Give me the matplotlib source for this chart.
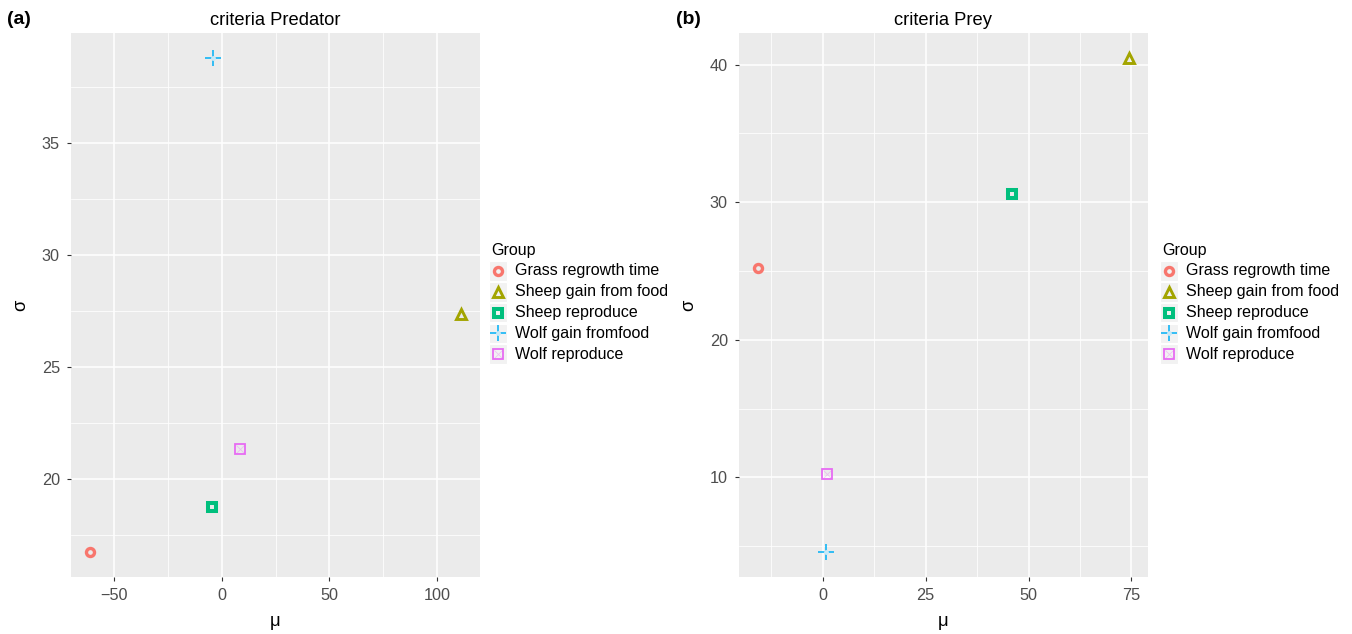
import matplotlib
matplotlib.use('Agg')
import matplotlib.pyplot as plt
from matplotlib.patches import Rectangle

plt.rcParams['font.family'] = ['Liberation Sans', 'DejaVu Sans']

groups = ['Grass regrowth time', 'Sheep gain from food', 'Sheep reproduce',
          'Wolf gain fromfood', 'Wolf reproduce']
colors = ['#F8766D', '#A3A500', '#00BF7D', '#00B0F6', '#E76BF3']

# (mu, sigma) per group
predator_mu = [-61.5, 111.4, -4.7, -4.2, 8.4]
predator_sigma = [16.74, 27.37, 18.75, 38.8, 21.34]
prey_mu = [-15.8, 74.5, 46.1, 0.7, 1.0]
prey_sigma = [25.18, 40.5, 30.6, 4.55, 10.24]

W, H = 1352, 634
BG = '#EBEBEB'


def fig_rect(x0, y0, x1, y1):
    return [x0 / W, 1 - y1 / H, (x1 - x0) / W, (y1 - y0) / H]


def draw_marker(ax, i, x, y):
    c = colors[i]
    if i == 0:
        ax.plot(x, y, 'o', ms=5.8, mfc='none', mec=c, mew=2.4, zorder=5)
    elif i == 1:
        ax.plot(x, y, '^', ms=7.4, mfc='none', mec=c, mew=2.1, zorder=5)
    elif i == 2:
        ax.plot(x, y, 's', ms=5.8, mfc='none', mec=c, mew=2.9, zorder=5)
    elif i == 3:
        ax.plot(x, y, '+', ms=12, mec=c, mew=1.1, zorder=5)
        ax.plot(x, y, 'o', ms=3.5, mfc='#C8E9F7', mec='none', zorder=6)
    else:
        ax.plot(x, y, 's', ms=7.4, mfc='none', mec=c, mew=1.3, zorder=5)
        ax.plot(x, y, 'x', ms=6.0, mec=c, mew=0.6, alpha=0.35, zorder=5)


def panel(rect, mu, sigma, title, xticks, xminor, yticks, yminor):
    ax = fig.add_axes(rect)
    ax.set_facecolor(BG)
    for s in ax.spines.values():
        s.set_visible(False)
    lo, hi = min(mu), max(mu)
    pad = (hi - lo) * 0.05
    ax.set_xlim(lo - pad, hi + pad)
    lo, hi = min(sigma), max(sigma)
    pad = (hi - lo) * 0.05
    ax.set_ylim(lo - pad, hi + pad)
    for v in xminor:
        ax.axvline(v, color='white', lw=0.55, zorder=0)
    for v in yminor:
        ax.axhline(v, color='white', lw=0.55, zorder=0)
    for v in xticks:
        ax.axvline(v, color='white', lw=1.1, zorder=0)
    for v in yticks:
        ax.axhline(v, color='white', lw=1.1, zorder=0)
    ax.set_xticks(xticks)
    ax.set_yticks(yticks)
    ax.set_xticklabels(['\u2212' + str(-v) if v < 0 else str(v) for v in xticks])
    ax.tick_params(length=3, width=0.8, color='#333333', labelcolor='#4D4D4D',
                   labelsize=11.7, pad=5)
    for i in range(len(mu)):
        draw_marker(ax, i, mu[i], sigma[i])
    ax.set_title(title, fontsize=13.2, color='black', pad=6)
    ax.set_xlabel('\u03bc', fontsize=13.2, labelpad=7)
    ax.set_ylabel('\u03c3', fontsize=13.2, labelpad=9)
    return ax


fig = plt.figure(figsize=(W / 100, H / 100), dpi=100)
fig.patch.set_facecolor('white')

panel(fig_rect(71, 33, 480, 577), predator_mu, predator_sigma, 'criteria Predator',
      [-50, 0, 50, 100], [-25, 25, 75], [20, 25, 30, 35], [17.5, 22.5, 27.5, 32.5, 37.5])
panel(fig_rect(739, 33, 1148, 577), prey_mu, prey_sigma, 'criteria Prey',
      [0, 25, 50, 75], [-12.5, 12.5, 37.5, 62.5], [10, 20, 30, 40], [5, 15, 25, 35])

# overlay in pixel coordinates for panel tags and legends
ov = fig.add_axes([0, 0, 1, 1], zorder=10)
ov.set_xlim(0, W)
ov.set_ylim(H, 0)
ov.axis('off')
ov.patch.set_alpha(0)

ov.text(7, 20, '(a)', fontsize=14, fontweight='bold', va='center', ha='left')
ov.text(676, 20, '(b)', fontsize=14, fontweight='bold', va='center', ha='left')

for lx in (489, 1160):
    ov.text(lx + 2, 251, 'Group', fontsize=11.5, va='center', ha='left')
    for i, name in enumerate(groups):
        yc = 271 + i * 20.8
        ov.add_patch(Rectangle((lx, yc - 9.8), 18, 19.6, facecolor='#F2F2F2',
                               edgecolor='white', lw=0.8, zorder=1))
        draw_marker(ov, i, lx + 9, yc)
        ov.text(lx + 26, yc, name, fontsize=11.5, va='center', ha='left')

fig.savefig('out.png', dpi=100, facecolor='white')
